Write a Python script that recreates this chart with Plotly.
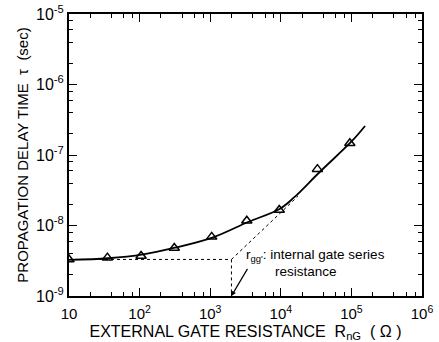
import plotly.graph_objects as go
import numpy as np

# measured data (triangles)
r_meas = [10, 35, 105, 310, 1050, 3300, 9500, 33000, 95000]
tau_meas = [3.3e-9, 3.5e-9, 3.7e-9, 4.8e-9, 6.9e-9, 1.17e-8, 1.66e-8, 6.3e-8, 1.47e-7]

# fitted curve (solid)
r_fit = [10, 36, 112, 317, 1100, 3430, 9750, 15400, 34700, 102000, 156000]
tau_fit = [3.25e-9, 3.43e-9, 3.9e-9, 4.84e-9, 6.8e-9, 1.12e-8, 1.73e-8, 2.5e-8, 5.6e-8, 1.58e-7, 2.58e-7]

# construction lines (dashed)
r_hline = [10, 2000]
tau_hline = [3.3e-9, 3.3e-9]
r_vline = [2000, 2000]
tau_vline = [3.3e-9, 1e-9]
r_slope = [2000, 17500]
tau_slope = [3.3e-9, 2.6e-8]

# pointer line to r_gg'
r_arrow = [2000, 3470]
tau_arrow = [1e-9, 2.55e-9]

x_ticks = [10, 100, 1000, 1e4, 1e5, 1e6]
x_ticktext = ["10", "10<sup>2</sup>", "10<sup>3</sup>", "10<sup>4</sup>", "10<sup>5</sup>", "10<sup>6</sup>"]
y_ticks = [1e-9, 1e-8, 1e-7, 1e-6, 1e-5]
y_ticktext = ["10<sup>-9</sup>", "10<sup>-8</sup>", "10<sup>-7</sup>", "10<sup>-6</sup>", "10<sup>-5</sup>"]

FONT = "Liberation Sans, Arial, sans-serif"

fig = go.Figure()
dash_style = dict(color="black", width=1, dash="3px,3px")
fig.add_trace(go.Scatter(x=r_hline, y=tau_hline, mode="lines", line=dash_style, showlegend=False))
fig.add_trace(go.Scatter(x=r_vline, y=tau_vline, mode="lines", line=dash_style, showlegend=False))
fig.add_trace(go.Scatter(x=r_slope, y=tau_slope, mode="lines", line=dash_style, showlegend=False))
fig.add_trace(go.Scatter(x=r_fit, y=tau_fit, mode="lines",
                         line=dict(color="black", width=1.8, shape="spline", smoothing=1.0), showlegend=False))
fig.add_trace(go.Scatter(x=r_meas, y=tau_meas, mode="markers",
                         marker=dict(symbol="triangle-up-open", size=9, color="black", line=dict(width=1.5)),
                         showlegend=False))

fig.add_annotation(x=np.log10(r_arrow[0]), y=np.log10(tau_arrow[0]), ax=np.log10(r_arrow[1]), ay=np.log10(tau_arrow[1]),
                   xref="x", yref="y", axref="x", ayref="y", text="", showarrow=True,
                   arrowhead=2, arrowsize=0.8, arrowwidth=1.2, arrowcolor="black")

fig.add_annotation(x=0.497, y=0.142, xref="paper", yref="paper", xanchor="left", yanchor="middle",
                   text="r<sub>gg'</sub>: internal gate series", showarrow=False,
                   font=dict(family=FONT, size=13.5, color="black"))
fig.add_annotation(x=0.578, y=0.088, xref="paper", yref="paper", xanchor="left", yanchor="middle",
                   text="resistance", showarrow=False,
                   font=dict(family=FONT, size=13.5, color="black"))

axis_common = dict(showline=True, linecolor="black", linewidth=2, mirror="ticks",
                   ticks="inside", ticklen=8, tickwidth=1.3, tickcolor="black",
                   showgrid=False, zeroline=False, automargin=False)

fig.update_xaxes(type="log", range=[1, 6], tickvals=x_ticks, ticktext=x_ticktext,
                 ticklabelstandoff=3, tickfont=dict(family=FONT, size=15, color="black"),
                 minor=dict(ticks="inside", ticklen=4, tickwidth=1, tickcolor="black",
                            tickvals=[m * 10 ** e for e in range(1, 6) for m in (2, 4, 6, 8)]),
                 title=dict(text="EXTERNAL GATE RESISTANCE  R<sub>nG</sub>  ( Ω )",
                            font=dict(family=FONT, size=16, color="black"), standoff=6),
                 **axis_common)
fig.update_yaxes(type="log", range=[-9, -5], tickvals=y_ticks, ticktext=y_ticktext,
                 tickfont=dict(family=FONT, size=16, color="black"),
                 minor=dict(ticks="inside", ticklen=4, tickwidth=1, tickcolor="black",
                            tickvals=[m * 10 ** e for e in range(-9, -5) for m in (2, 4, 6, 8)]),
                 title=dict(text="PROPAGATION DELAY TIME  τ  (sec)",
                            font=dict(family=FONT, size=15, color="black"), standoff=4),
                 **axis_common)

fig.update_layout(width=439, height=342, margin=dict(l=69, r=17, t=14, b=46),
                  paper_bgcolor="white", plot_bgcolor="white")

fig.write_html("out.html")
